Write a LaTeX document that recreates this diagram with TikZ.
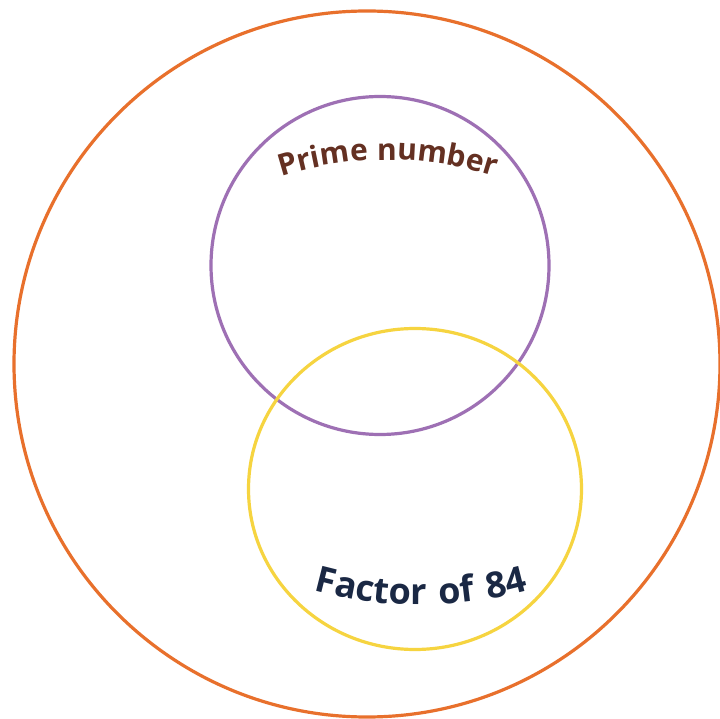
\documentclass[tikz,border=0pt]{standalone}
\usepackage{fontspec}
\setmainfont{Open Sans}
\usetikzlibrary{decorations.text}
\definecolor{outercol}{RGB}{232,112,44}
\definecolor{primecol}{RGB}{158,112,180}
\definecolor{factcol}{RGB}{246,212,64}
\definecolor{primetxt}{RGB}{100,48,34}
\definecolor{facttxt}{RGB}{26,40,68}
\tikzset{
  ring/.style={line width=3.2pt},
  arclabel/.style={decorate, decoration={text along path, text align=center, text color=#1}}
}
\begin{document}
\begin{tikzpicture}[x=1pt,y=1pt]
\useasboundingbox (0,0) rectangle (720,718);
\fill[white] (0,0) rectangle (720,718);
\begin{scope}
\clip (0,0) rectangle (720,718);
\draw[ring, outercol] (367,354) circle[radius=353];
\end{scope}
\draw[ring, primecol] (380,452.5) circle[radius=169];
\draw[ring, factcol] (415,229) ellipse[x radius=166.5, y radius=160.5];
\coordinate (pc) at (388,208);
\coordinate (fc) at (421,513);
\path[arclabel=primetxt, decoration={text={|\fontsize{30}{30}\selectfont\bfseries\addfontfeature{LetterSpace=2}|Prime number}}]
  (pc) ++(130:350) arc[start angle=130, end angle=50, radius=350];
\path[arclabel=facttxt, decoration={text={|\fontsize{36}{36}\selectfont\bfseries\addfontfeature{LetterSpace=9}|Factor of 84}}]
  (fc) ++(235:400) arc[start angle=235, end angle=305, radius=400];
\end{tikzpicture}
\end{document}
